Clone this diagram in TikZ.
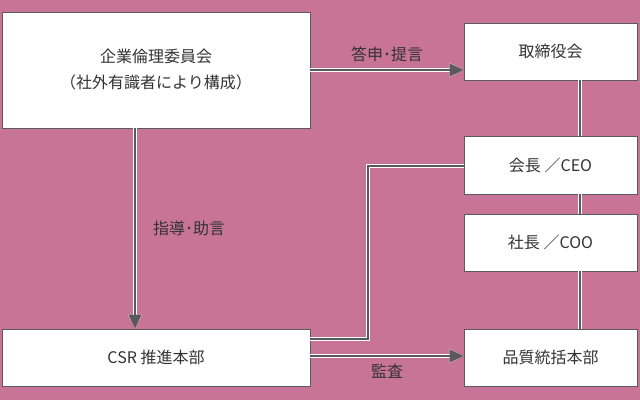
\documentclass[tikz,border=0pt]{standalone}
\usepackage{fontspec}
\setmainfont{Noto Sans CJK JP}
\usetikzlibrary{arrows.meta,positioning}
\definecolor{bgpink}{HTML}{C87496}
\definecolor{lineg}{HTML}{5A5A5A}
\definecolor{textg}{HTML}{333333}

\begin{document}
\begin{tikzpicture}[x=1pt,y=-1pt,>={Triangle[length=14pt,width=13pt]},
    box/.style={draw=lineg,fill=white,line width=0.9pt,inner sep=0pt,text=textg,font=\fontsize{16}{26}\selectfont,align=center},
    conn/.style={draw=lineg,line width=1.5pt,preaction={draw=white,line width=3.6pt}},
    lbl/.style={text=textg,font=\fontsize{16}{18}\selectfont}]

  \fill[bgpink] (0,0) rectangle (640,400);

  \node[box,minimum width=308pt,minimum height=116pt] (ethics) at (156,70)
       {企業倫理委員会\\（社外有識者により構成）};
  \node[box,minimum width=173pt,minimum height=57pt] (board) at (550.5,51.5) {取締役会};
  \node[box,minimum width=173pt,minimum height=58pt] (ceo) at (550.5,165) {会長 ／CEO};
  \node[box,minimum width=173pt,minimum height=57pt] (coo) at (550.5,242.5) {社長 ／COO};
  \node[box,minimum width=308pt,minimum height=57pt] (csr) at (156,357.5) {CSR 推進本部};
  \node[box,minimum width=173pt,minimum height=57pt] (qual) at (550.5,357.5) {品質統括本部};

  \coordinate (bend1) at (368,166);
  \coordinate (bend2) at (368,339);

  \draw[conn,->] (ethics.east |- 0,70) -- (board.west |- 0,70)
       node[lbl,midway,above=4pt] {答申･提言};
  \draw[conn,->] (ethics.south -| 135,0) -- (csr.north -| 135,0)
       node[lbl,midway,right=14pt] {指導･助言};
  \draw[conn] (board.south -| 580,0) -- (ceo.north -| 580,0);
  \draw[conn] (ceo.south -| 580,0) -- (coo.north -| 580,0);
  \draw[conn] (coo.south -| 580,0) -- (qual.north -| 580,0);
  \draw[conn] (ceo.west |- bend1) -- (bend1) -- (bend2) -- (csr.east |- bend2);
  \draw[conn,->] (csr.east |- 0,356) -- (qual.west |- 0,356)
       node[lbl,midway,below=4pt] {監査};
\end{tikzpicture}
\end{document}
